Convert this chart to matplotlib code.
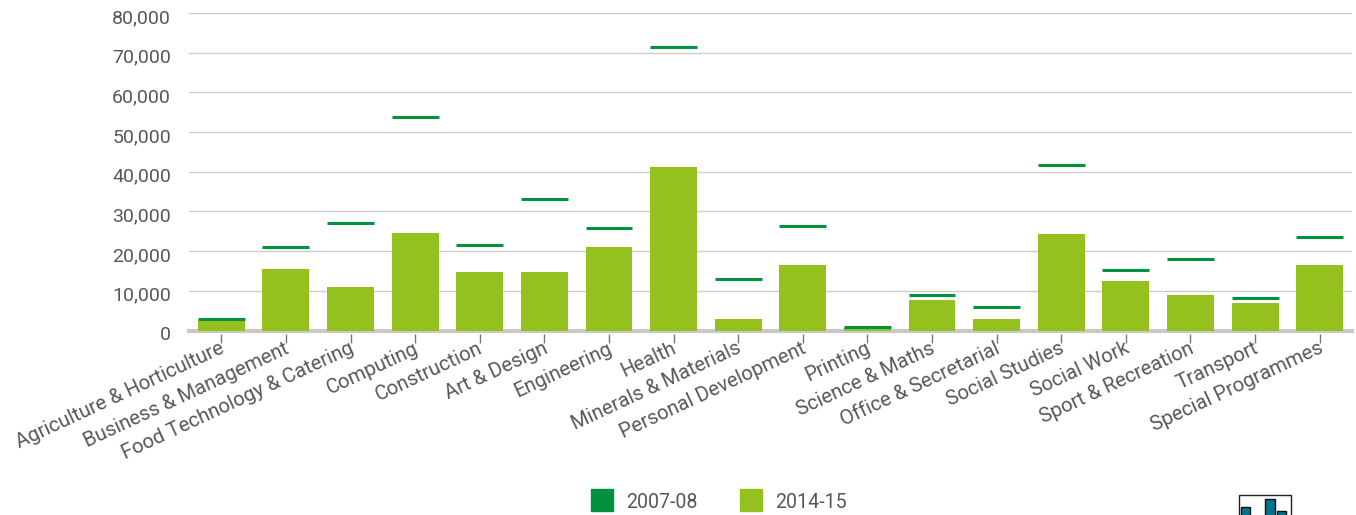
import matplotlib
matplotlib.use('Agg')
from matplotlib import pyplot as plt
from matplotlib.patches import Rectangle
from matplotlib.transforms import ScaledTranslation

categories = ['Agriculture & Horticulture', 'Business & Management', 'Food Technology & Catering',
              'Computing', 'Construction', 'Art & Design', 'Engineering', 'Health',
              'Minerals & Materials', 'Personal Development', 'Printing', 'Science & Maths',
              'Office & Secretarial', 'Social Studies', 'Social Work', 'Sport & Recreation',
              'Transport', 'Special Programmes']
values_0708 = [2900, 21000, 27000, 53700, 21500, 33100, 25800, 71400, 12900,
               26300, 1000, 9000, 5800, 41600, 15200, 17900, 8100, 23500]
values_1415 = [2400, 15600, 10900, 24500, 14700, 14700, 21000, 41200, 2800,
               16400, 600, 7600, 2900, 24300, 12400, 8900, 6900, 16400]
y_ticks = [0, 10000, 20000, 30000, 40000, 50000, 60000, 70000, 80000]

DARK = '#00923f'
LIGHT = '#95c11f'
TEXT = '#58585a'
W, H = 1356, 515

plt.rcParams['font.family'] = ['Roboto', 'DejaVu Sans']

fig = plt.figure(figsize=(W / 100, H / 100), dpi=100)
ax = fig.add_axes([189 / W, 1 - 330.5 / H, (1352 - 189) / W, 317.5 / H])

x = list(range(len(categories)))
bar_w = 0.725
ax.bar(x, values_1415, width=bar_w, color=LIGHT, zorder=3, label='2014-15')
ax.hlines(values_0708, [i - bar_w / 2 for i in x], [i + bar_w / 2 for i in x],
          color=DARK, linewidth=2.2, zorder=4)

ax.set_xlim(-0.5, 17.5)
ax.set_ylim(0, 80000)
ax.set_yticks(y_ticks)
ax.set_yticklabels([f'{v:,}' for v in y_ticks], fontsize=14, color=TEXT)
ax.set_xticks(x)
ax.set_xticklabels(categories, rotation=25, ha='right', rotation_mode='anchor',
                   fontsize=14.6, color=TEXT)
ax.tick_params(axis='y', length=0, pad=13)
ax.tick_params(axis='x', length=6.5, width=1, color='#777777', pad=3, direction='out')

# pixel offsets: y labels sit a bit low, x labels ride up beside the ticks
px_to_in = 1 / 100
down3 = ScaledTranslation(0, -3 * px_to_in, fig.dpi_scale_trans)
x_shift = ScaledTranslation(-2 * px_to_in, 5 * px_to_in, fig.dpi_scale_trans)
for lab in ax.get_yticklabels():
    lab.set_transform(lab.get_transform() + down3)
for lab in ax.get_xticklabels():
    lab.set_transform(lab.get_transform() + x_shift)
for tick in ax.xaxis.get_major_ticks():
    tick.tick1line.set_transform(tick.tick1line.get_transform() + down3)

ax.grid(axis='y', color='#cccccc', linewidth=1, zorder=0)
ax.set_axisbelow(True)
for name in ['top', 'right', 'left']:
    ax.spines[name].set_visible(False)
ax.spines['bottom'].set_color('#c8c8c8')
ax.spines['bottom'].set_linewidth(3)

# legend drawn by hand to sit at the exact spot
for px, col, lab in [(591, DARK, '2007-08'), (740, LIGHT, '2014-15')]:
    fig.patches.append(Rectangle((px / W, 1 - 511 / H), 22 / W, 22 / H, color=col,
                                 transform=fig.transFigure))
    fig.text((px + 35.5) / W, 1 - 502 / H, lab, fontsize=14.1, color=TEXT, va='center')

# small icon cut off at the bottom edge
fig.patches.append(Rectangle((1238.5 / W, -5 / H), 52 / W, 25 / H, facecolor='white',
                             edgecolor='#222222', linewidth=1, transform=fig.transFigure))
for px, top, wd in [(1241, 507, 9), (1265, 499, 10), (1277, 511, 9)]:
    fig.patches.append(Rectangle((px / W, -5 / H), wd / W, (H + 5 - top) / H, facecolor='#00718f',
                                 edgecolor='#111111', linewidth=1, transform=fig.transFigure))

fig.savefig('out.png', dpi=100)
